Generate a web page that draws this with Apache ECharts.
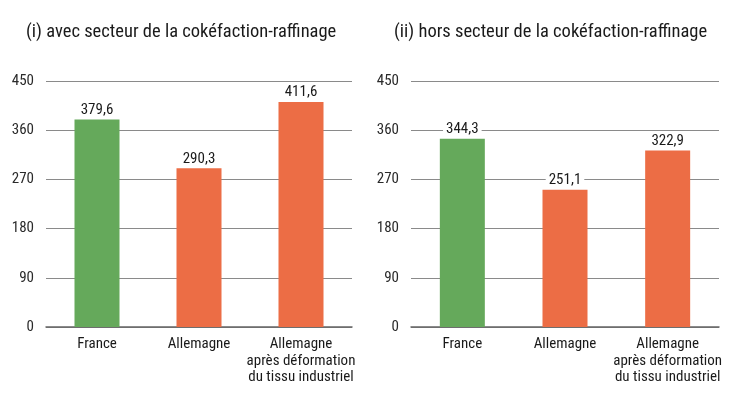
<!DOCTYPE html>
<html>
<head>
<meta charset="utf-8">
<script src="https://cdn.jsdelivr.net/npm/echarts@6/dist/echarts.min.js"></script>
<style>
  html, body { margin: 0; padding: 0; background: #fff; }
  #chart { width: 729px; height: 397px; }
</style>
</head>
<body>
<div id="chart"></div>
<script>
// données
var categories = ["France", "Allemagne", "Allemagne\naprès déformation\ndu tissu industriel"];
var avecCoke = [379.6, 290.3, 411.6];
var horsCoke = [344.3, 251.1, 322.9];
var titles = ["(i) avec secteur de la cokéfaction-raffinage", "(ii) hors secteur de la cokéfaction-raffinage"];

var FONT = "'Liberation Sans Narrow', 'Roboto Condensed', 'Liberation Sans', sans-serif";
var GREEN = "#65a95b";
var ORANGE = "#ec6d45";

function barData(vals) {
    var out = [];
    for (var i = 0; i < vals.length; i++) {
        out.push({ value: vals[i], itemStyle: { color: i == 0 ? GREEN : ORANGE } });
    }
    return out;
}

function xAxisFor(idx) {
    return {
        type: 'category',
        gridIndex: idx,
        data: categories,
        axisLine: { lineStyle: { color: '#666', width: 1.5 } },
        axisTick: { alignWithLabel: true, length: 5, lineStyle: { color: '#666' } },
        axisLabel: { color: '#1a1a1a', fontFamily: FONT, fontSize: 15, lineHeight: 16.5, margin: 9, interval: 0 }
    };
}

function yAxisFor(idx) {
    return {
        type: 'value',
        gridIndex: idx,
        min: 0, max: 450, interval: 90,
        axisLine: { show: false },
        axisTick: { show: false },
        axisLabel: { color: '#2a2a2a', fontFamily: FONT, fontSize: 15, margin: 12 },
        splitLine: { lineStyle: { color: '#8a8a8a', width: 1 } }
    };
}

function seriesFor(idx, vals) {
    return {
        type: 'bar',
        xAxisIndex: idx,
        yAxisIndex: idx,
        barWidth: 45,
        data: barData(vals),
        label: {
            show: true,
            position: 'top',
            distance: 2,
            color: '#1a1a1a',
            fontFamily: FONT,
            fontSize: 15,
            backgroundColor: '#fff',
            padding: [0, 3],
            formatter: function (p) { return p.value.toFixed(1).replace('.', ','); }
        }
    };
}

var myChart = echarts.init(document.getElementById('chart'));
myChart.setOption({
    animation: false,
    title: [
        { text: titles[0], left: 21, top: 18, textStyle: { fontFamily: FONT, fontSize: 18.5, fontWeight: 'normal', color: '#1a1a1a' } },
        { text: titles[1], left: 389, top: 18, textStyle: { fontFamily: FONT, fontSize: 18.5, fontWeight: 'normal', color: '#1a1a1a' } }
    ],
    grid: [
        { left: 46, top: 81, width: 306, height: 246 },
        { left: 411, top: 81, width: 308, height: 246 }
    ],
    xAxis: [xAxisFor(0), xAxisFor(1)],
    yAxis: [yAxisFor(0), yAxisFor(1)],
    series: [seriesFor(0, avecCoke), seriesFor(1, horsCoke)]
});
</script>
</body>
</html>
